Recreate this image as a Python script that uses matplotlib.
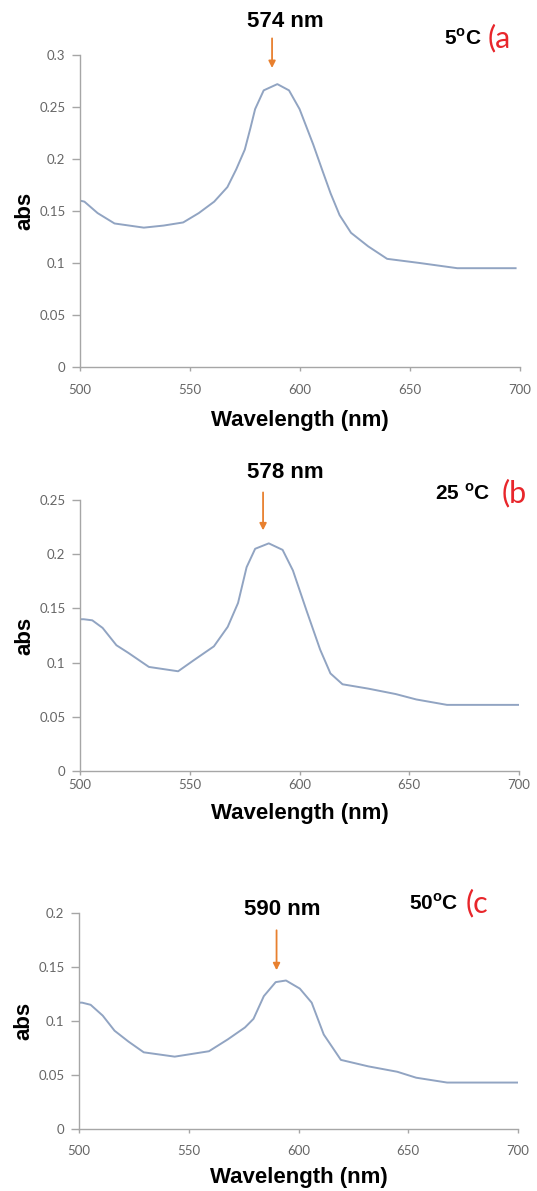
import matplotlib.pyplot as plt

# === Daten
wl_a = [500, 502, 508, 515.7, 529, 538, 546.9, 554, 561, 567, 571, 574.9, 577.5, 579.6, 583.5, 589.7,
        595, 599.8, 606, 610, 613.9, 618, 623.2, 631, 639.6, 654.4, 671.5, 698]
abs_a = [0.160, 0.159, 0.148, 0.138, 0.134, 0.136, 0.139, 0.148, 0.159, 0.173, 0.190, 0.209,
         0.230, 0.248, 0.266, 0.272, 0.266, 0.248, 0.214, 0.190, 0.167, 0.146, 0.129, 0.116,
         0.104, 0.100, 0.095, 0.095]

wl_b = [500, 501.7, 505.6, 510.3, 516.6, 522, 531.4, 544.7, 551.7, 561, 567.3, 572, 575.9, 579.8,
        586, 592.3, 597, 603.2, 609.4, 614.1, 619.6, 631.3, 643.8, 653.2, 667.2, 700]
abs_b = [0.140, 0.140, 0.139, 0.132, 0.116, 0.109, 0.096, 0.092, 0.102, 0.115, 0.133, 0.155,
         0.188, 0.205, 0.210, 0.204, 0.185, 0.148, 0.112, 0.090, 0.080, 0.076, 0.071, 0.066,
         0.061, 0.061]

wl_c = [500, 501.4, 505.3, 510.8, 516.2, 522.5, 529.5, 543.6, 559.2, 567.8, 575.6, 579.5, 584.2,
        589.6, 594.3, 600.6, 606, 611.5, 619.3, 631.8, 645, 653.6, 667.7, 700]
abs_c = [0.117, 0.117, 0.115, 0.105, 0.091, 0.081, 0.071, 0.067, 0.072, 0.083, 0.094, 0.102,
         0.123, 0.136, 0.1375, 0.130, 0.117, 0.0875, 0.064, 0.058, 0.053, 0.0475, 0.043, 0.043]

peaks = ["574 nm", "578 nm", "590 nm"]
temps = ["5", "25 ", "50"]
letters = ["(a", "(b", "(c"]
yticks = [[0, 0.05, 0.1, 0.15, 0.2, 0.25, 0.3],
          [0, 0.05, 0.1, 0.15, 0.2, 0.25],
          [0, 0.05, 0.1, 0.15, 0.2]]
ytick_labels = [["0", "0.05", "0.1", "0.15", "0.2", "0.25", "0.3"],
                ["0", "0.05", "0.1", "0.15", "0.2", "0.25"],
                ["0", "0.05", "0.1", "0.15", "0.2"]]
xticks = [500, 550, 600, 650, 700]

# === Layout (Pixel im Bild)
W, H = 537, 1191
rects = [(80, 55, 440, 312), (80, 500, 439, 271), (79, 913, 439, 216)]
# (Pfeil-x, Pfeil-Start, Pfeil-Ende, Text-x, Text-y, Temp-x, Klammer-x, Temp-y, xlabel-y, x-pad)
annots = [
    (587.3, 0.316, 0.2875, 593.5, 0.332, 665.5, 685.5, 0.316, -0.170, 9.4),
    (583.4, 0.257, 0.222, 593.7, 0.275, 661.6, 692, 0.2565, -0.155, 2.5),
    (590, 0.184, 0.147, 592.7, 0.2035, 650.4, 676, 0.209, -0.225, 8.6),
]

plt.rcParams['font.family'] = ['Liberation Sans', 'DejaVu Sans']
fig = plt.figure(figsize=(W / 100, H / 100), dpi=100)

grey = "#a6a6a6"
line_col = "#91a4c2"
orange = "#e8802f"

data = [(wl_a, abs_a), (wl_b, abs_b), (wl_c, abs_c)]
for i, ((x, y), (l, t, w, h)) in enumerate(zip(data, rects)):
    ax = fig.add_axes([l / W, (H - t - h) / H, w / W, h / H])
    ax.plot(x, y, color=line_col, lw=1.4, solid_joinstyle="round")
    ax.set_xlim(500, 700)
    ax.set_ylim(0, yticks[i][-1])
    ax.set_xticks(xticks)
    ax.set_yticks(yticks[i])
    ax.set_yticklabels(ytick_labels[i])
    for s in ["top", "right"]:
        ax.spines[s].set_visible(False)
    for s in ["left", "bottom"]:
        ax.spines[s].set_color(grey)
        ax.spines[s].set_linewidth(1.0)
    ax_x, a0, a1, tx, ty, tempx, brx, tempy, xly, xpad = annots[i]
    ax.tick_params(colors=grey, labelcolor="#666666", labelsize=9.5, width=1.0)
    ax.tick_params(axis="y", length=5.5, pad=5)
    ax.tick_params(axis="x", length=3, pad=xpad)
    for lab in ax.get_xticklabels() + ax.get_yticklabels():
        lab.set_family(["Lato", "DejaVu Sans"])
    ax.set_ylabel("abs", fontsize=16, fontweight="bold", va="center")
    ax.set_xlabel("Wavelength (nm)", fontsize=16, fontweight="bold", va="center")
    ax.yaxis.set_label_coords(-0.125, 0.5)
    ax.xaxis.set_label_coords(0.5, xly)

    # === Pfeil und Peak-Beschriftung
    ax.annotate("", xy=(ax_x, a1), xytext=(ax_x, a0), annotation_clip=False,
                arrowprops=dict(arrowstyle="-|>", color=orange, lw=1.3, mutation_scale=10,
                                shrinkA=0, shrinkB=0))
    ax.text(tx, ty, peaks[i], ha="center", va="center", fontsize=16, fontweight="bold",
            clip_on=False)
    ax.text(tempx, tempy, temps[i] + r"$^{\mathregular{o}}$C", ha="left", va="center",
            fontsize=15, fontweight="bold", clip_on=False)
    ax.text(brx, tempy, letters[i], ha="left", va="center", fontsize=22, color="#e8262b",
            family=["Lato", "DejaVu Sans"], clip_on=False)

plt.savefig("out.png", dpi=100)
plt.close()
